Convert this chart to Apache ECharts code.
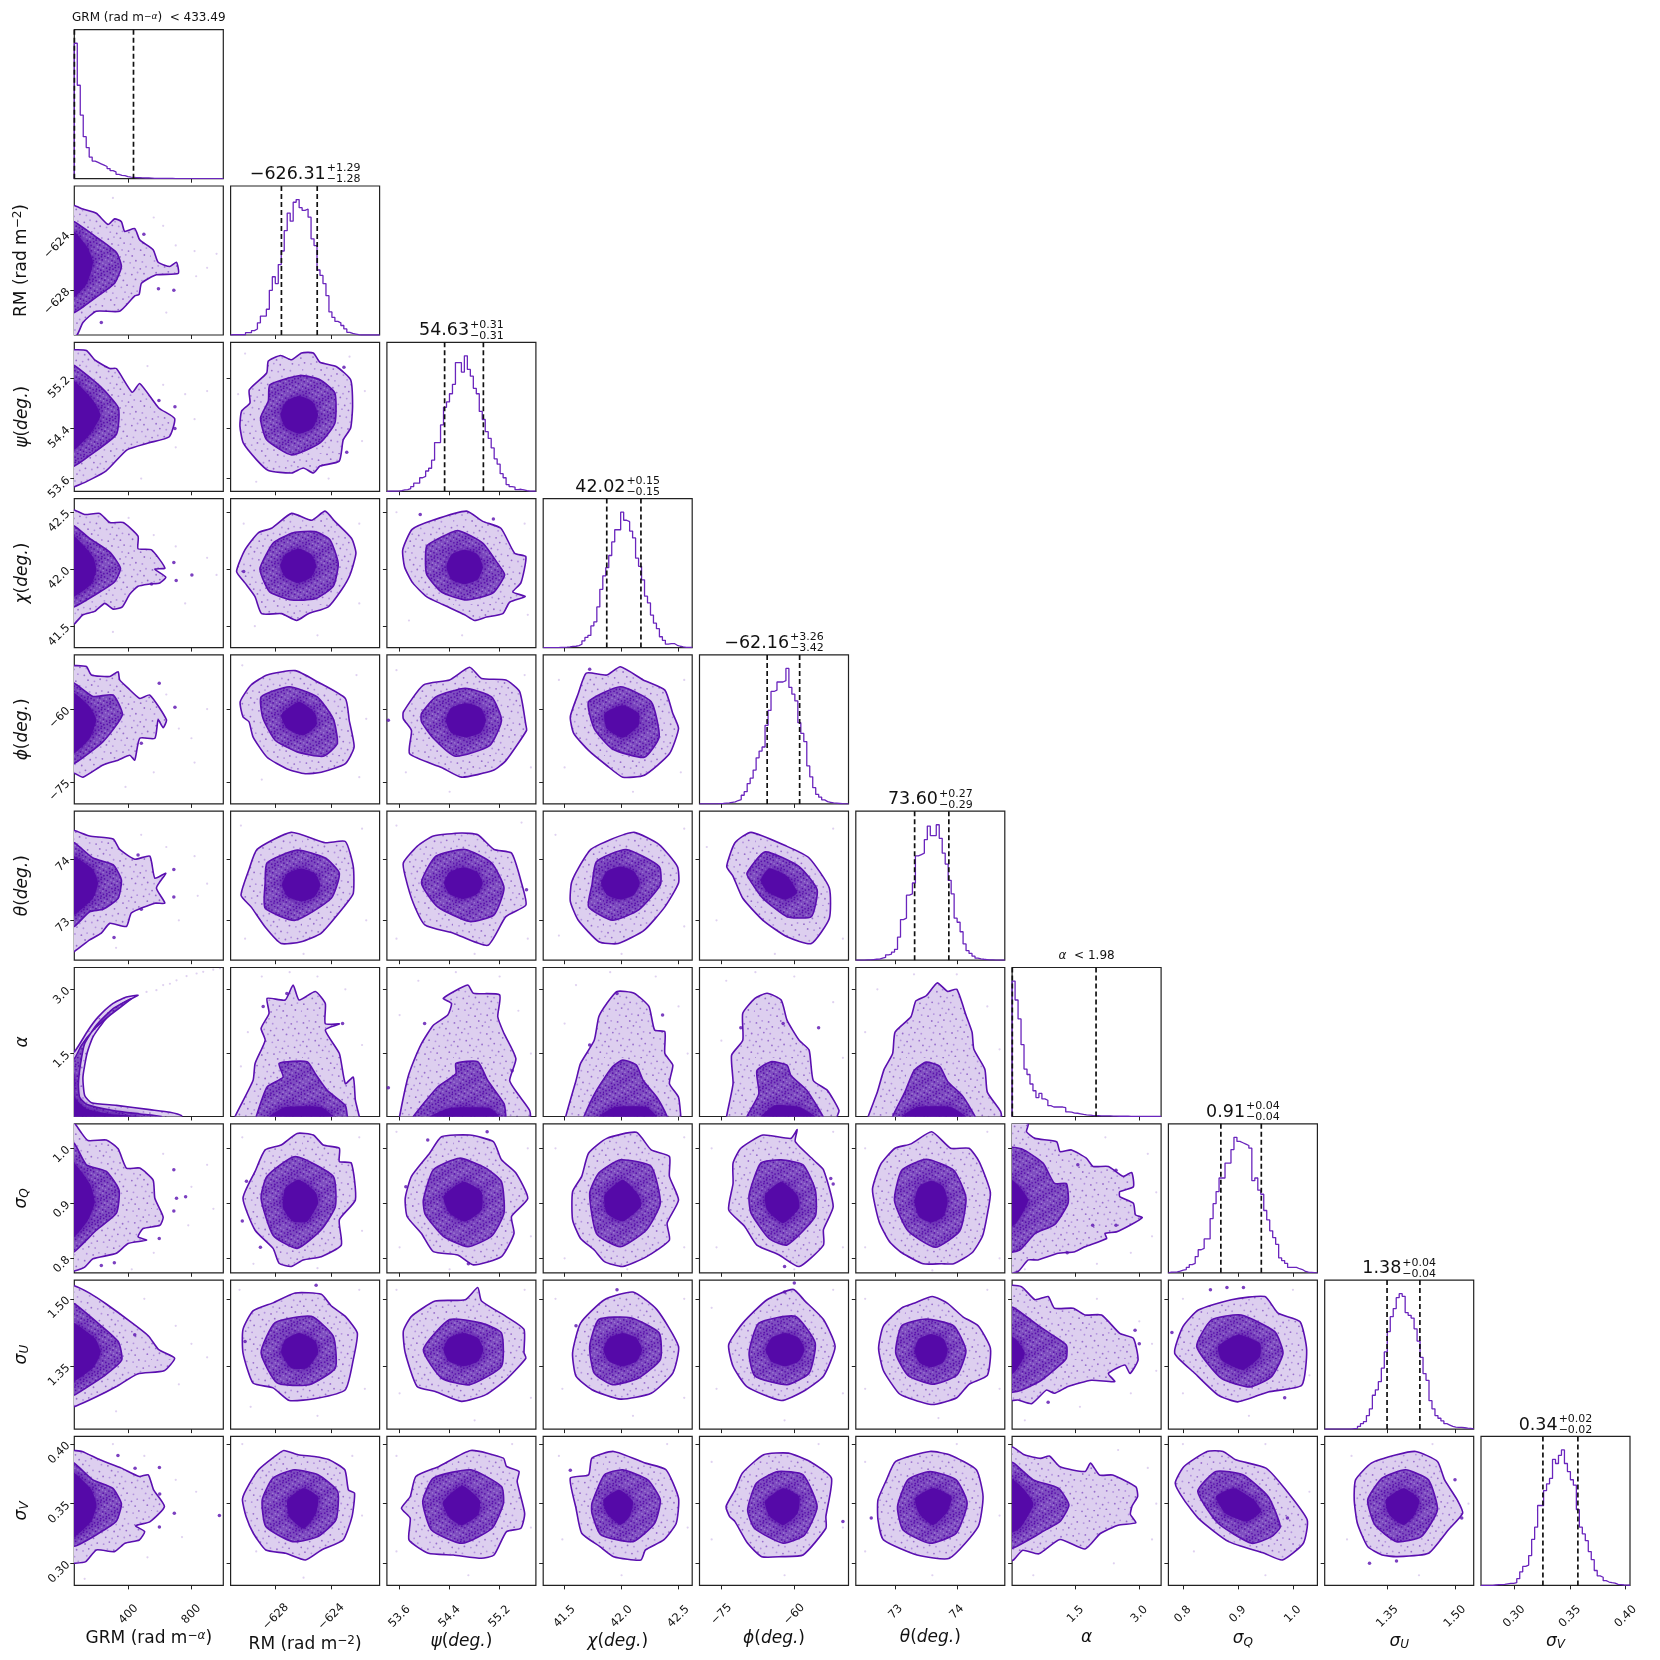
<!DOCTYPE html>
<html>
<head>
<meta charset="utf-8">
<style>html,body{margin:0;background:#fff}#chart{width:1660px;height:1660px}</style>
<script src="https://cdn.jsdelivr.net/npm/echarts@6/dist/echarts.min.js"></script>
</head>
<body>
<div id="chart"></div>
<script>
"use strict";

// axis ranges
var xRanges = [[54,1003],[-631.24,-620.54],[53.397,55.78],[41.312,42.62],[-79.5,-48.85],[72.347,74.786],[0,3.514],[0.7736,1.0445],[1.2104,1.5416],[0.2701,0.4039]];
var yRanges = [[54,1003],[-631.2,-620.55],[53.397,55.78],[41.312,42.62],[-79.5,-48.85],[72.347,74.786],[0.03,3.51],[0.7736,1.0445],[1.2104,1.5416],[0.2815,0.4064]];
var tickValues = [[400,800],[-628,-624],[53.6,54.4,55.2],[41.5,42,42.5],[-75,-60],[73,74],[1.5,3],[0.8,0.9,1],[1.35,1.5],[0.3,0.35,0.4]];
var tickLabels = [["400","800"],["\u2212628","\u2212624"],["53.6","54.4","55.2"],["41.5","42.0","42.5"],["\u221275","\u221260"],["73","74"],["1.5","3.0"],["0.8","0.9","1.0"],["1.35","1.50"],["0.30","0.35","0.40"]];
var axisNames = ["GRM (rad m{sup|\u2212}{supi|\u03b1})","RM (rad m{sup|\u22122})","{i|\u03c8}({i|deg.})","{i|\u03c7}({i|deg.})","{i|\u03d5}({i|deg.})","{i|\u03b8}({i|deg.})","{i|\u03b1}","{i|\u03c3}{sub|Q}","{i|\u03c3}{sub|U}","{i|\u03c3}{sub|V}"];

// titles and dashed quantile lines of the diagonal
var titleMain = ["","\u2212626.31","54.63","42.02","\u221262.16","73.60","","0.91","1.38","0.34"];
var titleUp = ["","+1.29","+0.31","+0.15","+3.26","+0.27","","+0.04","+0.04","+0.02"];
var titleDown = ["","\u22121.28","\u22120.31","\u22120.15","\u22123.42","\u22120.29","","\u22120.04","\u22120.04","\u22120.02"];
var quantiles = [[54.5,431],[-627.59,-625.02],[54.32,54.94],[41.87,42.17],[-65.58,-58.9],[73.31,73.87],[0.005,1.98],[0.869,0.9425],[1.349,1.422],[0.3257,0.3571]];

// diagonal histograms, 50 bins, tallest bin near 100
var hist_0 = [100,69,47,31,23,16,13,12,11,10,9,7.5,6,5,3.2,2.5,2.2,1.5,1.2,1,.8,.7,.6,.5,.5,.4,.3,.3,.3,.2,.2,.2,.2,.1,.1,.1,.1,.1,.1,.1,.1,.1,.1,.1,.1,.05,.05,.05,.05,.05];
var hist_1 = [.2,.2,.2,.2,.2,1.7,1.7,3.2,4.4,9,14,14,19,33,43,38,52,62,77,90,84,98,100,94,92,93,87,71,66,48,44,38,29,17,13,10,9,7,4.5,2,1.2,.7,.2,0,0,0,0,0,0,0];
var hist_2 = [.2,.2,.2,.2,.5,1,1.2,2,3.5,6,6,10,11,15,17,23,36,36,49,62,66,72,79,95,95,88,100,90,85,76,72,59,53,44,39,32,24,20,13,10,5,3.5,3,1.2,1.5,1,.5,.2,.2,.1];
var hist_3 = [0,0,0,0,0,.2,.2,.3,.5,.9,1,1.4,2.5,5,7.5,9,16,19,30,43,53,59,68,78,87,87,100,94,93,86,81,66,60,50,38,33,24,18,14,8,5.4,2.5,3,3,1.7,1,.5,.2,.1,.1];
var hist_4 = [0,0,0,0,0,0,.2,.3,.5,.7,1.2,1.5,2.5,3.2,6.4,9,15,19,25,34,39,42,58,69,83,84,90,90,91,100,86,81,76,60,52,46,28,20,12,7,5,3,1.7,1.2,.7,.5,.3,.1,0,0];
var hist_5 = [0,0,0,.2,.3,.5,.7,.8,1.5,2,4,4.5,6,8,17,30,31,48,49,57,77,78,79,89,99,92,92,100,90,79,71,59,49,31,28,21,12,7,5,3,1.5,1,.7,.5,.3,.2,.1,0,0,0];
var hist_6 = [100,86,72,53,35,31,24,19,14,17,13,12,8,7,7,7,7,6.5,3.4,3.2,2.5,2.4,2,1.5,1.2,1,.8,.7,.6,.5,.5,.4,.4,.3,.3,.2,.2,.2,.2,.1,.1,.1,.1,.1,.1,.1,.05,.05,.05,.05];
var hist_7 = [.5,.5,.7,1.2,2,2.4,4,6,7,12,17,18,25,25,40,51,60,70,70,81,81,91,100,97,96,95,94,92,68,70,61,58,46,39,31,26,21,11,9,7,4,4,4,3,2.4,1,.5,.3,.1,0];
var hist_8 = [0,0,0,0,0,0,0,0,0,.3,.5,2,4,5.5,10,15,25,29,35,45,57,72,83,89,97,100,98,86,84,82,74,65,53,41,36,21,15,10,8,6,4,3,2,1.5,1.2,1.2,1,.7,.5,.2];
var hist_9 = [0,0,0,0,.3,.5,.5,.7,1.2,1.5,1.5,2,5,10,14,15,22,34,43,59,59,70,75,79,93,90,96,100,90,84,78,74,56,43,38,33,25,19,11,7,6,3.5,2.5,2,1.7,.7,.5,.3,.2,.1];

// contours in data units, x,y,x,y,... name is row_col
var outer_1_0 = [3,-621.9,54,-621.94,109,-622.2,194,-622.5,269,-623.3,311,-622.9,354,-623.1,375,-623.8,439,-623.6,471,-624.4,556,-625.1,588,-626,663,-626.3,705,-626,716,-626.8,577,-626.9,482,-627.5,467,-628.3,439,-628.4,343,-629.5,194,-629.5,109,-630.3,71,-631.2,3,-631.3];
var mid_1_0 = [3,-623,54,-623.1,194,-624.2,322,-625.3,354,-626.3,311,-627.5,194,-628.5,109,-629.2,54,-629.6,3,-629.6];
var core_1_0 = [3,-623.7,54,-623.8,135,-624.9,173,-626,135,-627.5,54,-628.5,3,-628.6];
var outer_2_0 = [3,55.66,54,55.66,131,55.65,184,55.5,280,55.36,322,55.36,423,54.98,471,55.12,592,54.73,693,54.56,659,54.27,525,54.17,390,54.06,255,53.72,86,53.5,3,53.45];
var mid_2_0 = [3,55.42,54,55.41,221,55.07,335,54.73,322,54.31,153,53.97,54,53.8,3,53.79];
var core_2_0 = [3,55.17,54,55.16,174,54.85,221,54.61,153,54.31,54,54.06,3,54.05];
var outer_3_0 = [3,42.52,54,42.52,120,42.48,216,42.49,280,42.41,365,42.41,460,42.29,460,42.18,546,42.17,631,42.01,567,42,637,41.93,599,41.88,535,41.87,460,41.85,407,41.78,360,41.67,301,41.65,248,41.7,184,41.63,109,41.6,54,41.52,3,41.51];
var mid_3_0 = [3,42.38,54,42.38,152,42.27,280,42.15,348,42.01,311,41.89,216,41.8,54,41.67,3,41.66];
var core_3_0 = [3,42.29,54,42.29,173,42.11,194,41.99,162,41.87,54,41.76,3,41.75];
var outer_4_0 = [3,-51,54,-51.05,131,-51.25,163,-52.97,280,-53.3,333,-52.3,343,-54,397,-55.7,471,-57.8,535,-57.1,641,-62.2,620,-63.8,588,-62.2,567,-66,471,-66,439,-70.5,407,-69.5,333,-70.5,237,-71.5,109,-74,54,-73.2,3,-73.2];
var mid_4_0 = [3,-54.7,54,-54.7,173,-57.4,301,-57.1,360,-61.2,237,-66.7,54,-71.2,3,-71.2];
var core_4_0 = [3,-56.7,54,-56.7,152,-59.5,194,-62.2,152,-66,54,-69.1,3,-69.1];
var outer_5_0 = [3,74.47,54,74.47,152,74.38,301,74.33,343,74.16,439,74,535,74.05,567,73.69,637,73.77,577,73.53,631,73.28,567,73.28,418,73.12,386,72.9,280,72.95,226,72.79,152,72.68,54,72.49,3,72.45];
var mid_5_0 = [3,74.27,54,74.27,173,74.02,301,73.91,354,73.66,333,73.36,237,73.18,152,73.14,54,72.9,3,72.9];
var core_5_0 = [3,74.05,54,74.05,173,73.83,205,73.61,173,73.36,54,73.09,3,73.09];
var outer_6_0 = [460,2.86,386,2.82,301,2.67,205,2.35,141,2.04,54,1.54,3,1.54,3,-.06,737,-.06,737,.05,663,.13,535,.19,322,.29,163,.35,120,.52,109,.95,135,1.5,173,1.89,248,2.28,343,2.63];
var mid_6_0 = [418,2.78,301,2.55,194,2.16,120,1.73,94,1.26,80,.79,88,.48,135,.31,301,.17,471,.09,609,.03,609,-.06,3,-.06,3,1.3,54,1.38,99,1.69,173,2.04,280,2.39];
var core_6_0 = [54,1.03,58,.48,131,.21,280,.09,471,.03,471,-.06,3,-.06,3,1.03];
var outer_7_0 = [3,1.05,54,1.046,94,1.03,141,1.014,258,1.015,333,.999,386,.964,471,.964,556,.942,567,.909,620,.875,599,.86,492,.854,460,.839,514,.833,397,.827,322,.809,173,.799,120,.784,54,.777,3,.775];
var mid_7_0 = [3,1.01,54,1.009,131,.97,258,.958,339,.924,322,.882,194,.851,54,.812,3,.81];
var core_7_0 = [3,.975,54,.973,152,.936,184,.903,141,.869,54,.839,3,.838];
var outer_8_0 = [3,1.53,54,1.529,154,1.512,255,1.489,424,1.446,525,1.418,592,1.387,693,1.368,626,1.34,457,1.333,322,1.305,188,1.281,66,1.262,3,1.258];
var mid_8_0 = [3,1.49,54,1.489,221,1.441,335,1.404,356,1.364,242,1.328,120,1.3,54,1.286,3,1.285];
var core_8_0 = [3,1.447,54,1.446,188,1.411,221,1.38,174,1.347,54,1.317,3,1.316];
var outer_9_0 = [3,.3952,54,.3946,104,.3938,218,.3868,354,.3798,468,.3728,525,.3742,559,.3616,628,.3476,537,.335,445,.3314,502,.3266,468,.3196,377,.3168,309,.3098,195,.3112,127,.3014,54,.3,3,.3];
var mid_9_0 = [3,.385,54,.384,172,.37,298,.363,354,.35,320,.335,195,.324,70,.315,3,.314];
var core_9_0 = [3,.377,54,.376,161,.362,195,.349,161,.335,54,.322,3,.321];

var outer_2_1 = [-627.65,55.57,-626.86,55.5,-626.14,55.61,-625.3,55.61,-624.82,55.46,-623.63,55.39,-622.62,55.18,-622.48,54.76,-622.62,54.41,-623.15,54.22,-623.44,53.88,-624.82,53.8,-625.3,53.69,-626.02,53.77,-626.86,53.69,-628.53,53.73,-629.37,53.9,-630.33,54.17,-630.57,54.44,-630.45,54.68,-629.85,54.81,-629.9,55.02,-628.65,55.29,-628.53,55.48];
var mid_2_1 = [-628.42,55.1,-626.26,55.25,-624.82,55.18,-623.75,54.97,-623.75,54.49,-624.82,54.17,-626.86,53.98,-628.65,54.22,-629.09,54.57,-628.53,54.84];
var core_2_1 = [-626.31,54.92,-625.35,54.83,-624.96,54.62,-625.35,54.41,-626.31,54.32,-627.27,54.41,-627.66,54.62,-627.27,54.83];
var outer_3_1 = [-630.81,41.98,-630.21,42.17,-629.25,42.32,-628.3,42.36,-626.86,42.49,-625.42,42.43,-624.46,42.51,-623.75,42.42,-622.55,42.27,-622.24,42.14,-622.67,41.95,-623.27,41.82,-624.23,41.67,-625.66,41.61,-626.5,41.55,-627.58,41.61,-629.01,41.61,-629.49,41.76,-630.21,41.88];
var mid_3_1 = [-629.13,42.01,-628.18,42.23,-626.74,42.32,-625.18,42.33,-624.11,42.26,-623.51,42.05,-623.87,41.85,-625.18,41.74,-626.86,41.73,-628.42,41.8,-628.94,41.92];
var core_3_1 = [-626.38,42.18,-625.45,42.13,-625.08,42.03,-625.45,41.93,-626.38,41.88,-627.3,41.93,-627.68,42.03,-627.3,42.13];
var outer_3_2 = [53.65,42.17,53.8,42.35,54.13,42.43,54.67,42.51,54.93,42.42,55.22,42.36,55.44,42.14,55.62,42.11,55.54,41.88,55.41,41.8,55.61,41.76,55.36,41.71,55.25,41.61,54.99,41.58,54.8,41.55,54.64,41.6,54.29,41.69,54.03,41.76,53.81,41.88,53.68,42.02];
var mid_3_2 = [54.03,42.2,54.19,42.26,54.53,42.34,54.93,42.23,55.17,42.05,55.28,41.95,55.09,41.79,54.67,41.73,54.27,41.8,54.03,41.96];
var core_3_2 = [54.64,42.17,54.85,42.13,54.93,42.02,54.85,41.91,54.64,41.87,54.43,41.91,54.35,42.02,54.43,42.13];
var outer_4_1 = [-630.55,-58.5,-629.77,-55.05,-628.62,-52.98,-626.6,-52.09,-625.02,-54.36,-623,-57.8,-622.72,-62.3,-622.37,-67.8,-623,-71.2,-624.73,-73,-625.88,-73.3,-627.18,-72.3,-628.62,-69.9,-629.63,-65.7,-629.92,-62.6,-630.35,-61.6];
var mid_4_1 = [-629.05,-57.5,-627.03,-55.4,-625.02,-57.5,-623.87,-62,-623.58,-67.1,-624.59,-69.7,-626.46,-68.8,-628.04,-66.4,-628.91,-61.9];
var core_4_1 = [-626.32,-58.5,-625.16,-60.9,-625.08,-63.3,-626.03,-65.4,-627.18,-64,-627.61,-61.2];
var outer_4_2 = [53.66,-60.6,53.98,-55.05,54.4,-54,54.72,-51.4,54.91,-53.7,55.3,-54,55.52,-56.4,55.62,-63.3,55.63,-64.4,55.3,-70.6,55.1,-72.6,54.59,-74,54.27,-72,53.76,-69.2,53.79,-64.4,53.66,-62];
var mid_4_2 = [53.95,-60.9,54.18,-57.5,54.65,-55.7,55.07,-57.5,55.23,-62.3,55.04,-67.5,54.49,-69.7,54.14,-66,53.95,-62.6];
var core_4_2 = [54.66,-58.8,54.9,-59.8,54.98,-62.3,54.9,-64.8,54.66,-65.8,54.42,-64.8,54.34,-62.3,54.42,-59.8];
var outer_4_3 = [41.55,-61.6,41.62,-56.8,41.69,-52.6,41.87,-53,41.99,-51.3,42.19,-54,42.38,-56.1,42.45,-60.9,42.5,-64,42.42,-69.2,42.2,-73.6,42.01,-74,41.87,-71.6,41.71,-68.5,41.58,-65];
var mid_4_3 = [41.71,-58.5,41.99,-55.4,42.26,-58.5,42.33,-65.7,42.2,-69.9,41.92,-68.2,41.76,-64];
var core_4_3 = [42.01,-59.2,42.15,-60.9,42.15,-63.3,42.01,-65.9,41.87,-64,41.85,-60.9];
var outer_5_1 = [-629.34,74.16,-626.89,74.44,-624.44,74.27,-623,74.29,-622.43,73.88,-622.43,73.44,-623,73.25,-624.73,72.79,-626.17,72.65,-627.61,72.62,-628.76,72.89,-629.77,73.22,-630.49,73.41,-629.92,73.83];
var mid_5_1 = [-628.62,73.94,-626.46,74.15,-624.44,74.02,-623.43,73.77,-624.01,73.36,-626.6,73,-628.76,73.2,-628.76,73.61];
var core_5_1 = [-626.17,73.85,-625.2,73.77,-624.8,73.58,-625.2,73.39,-626.17,73.31,-627.15,73.39,-627.55,73.58,-627.15,73.77];
var outer_5_2 = [53.66,73.94,53.88,74.21,54.14,74.38,54.59,74.43,54.85,74.4,55.11,74.16,55.39,74.1,55.55,73.61,55.62,73.25,55.3,73.06,55.01,72.59,54.46,72.79,54.01,72.92,53.82,73.28,53.69,73.72];
var mid_5_2 = [53.95,73.61,54.18,74.05,54.65,74.16,55.07,73.94,55.27,73.53,55.11,73.09,54.72,72.98,54.21,73.22];
var core_5_2 = [54.62,73.87,54.84,73.79,54.93,73.61,54.84,73.43,54.62,73.35,54.4,73.43,54.31,73.61,54.4,73.79];
var outer_5_3 = [41.56,73.61,41.62,73.85,41.73,74.16,41.9,74.32,42.11,74.44,42.33,74.24,42.49,73.88,42.5,73.61,42.38,73.22,42.2,72.84,41.97,72.62,41.8,72.65,41.62,73,41.55,73.31];
var mid_5_3 = [41.74,73.58,41.78,73.96,42.04,74.16,42.33,73.88,42.34,73.58,42.15,73.17,41.92,73,41.71,73.22];
var core_5_3 = [41.99,73.88,42.11,73.8,42.16,73.61,42.11,73.42,41.99,73.34,41.87,73.42,41.82,73.61,41.87,73.8];
var outer_5_4 = [-73.9,73.88,-72.2,74.27,-68.9,74.44,-61.5,74.21,-56.95,74.02,-52.8,73.53,-52.8,73.03,-56.5,72.62,-61.5,72.73,-66.45,73,-70.6,73.36,-72.6,73.72];
var mid_5_4 = [-69.75,73.77,-66,74.12,-59,73.88,-55.3,73.5,-56.5,73.06,-61.5,73.06,-66.45,73.36,-68.9,73.63];
var core_5_4 = [-65.2,73.85,-61.5,73.72,-59.4,73.45,-61.9,73.34,-65.6,73.47,-66.9,73.66];

var outer_6_1 = [-630.92,.03,-629.63,.87,-629.48,1.27,-628.76,1.81,-629.05,2.09,-628.48,2.44,-628.62,2.79,-627.32,2.75,-626.75,3.1,-626.32,2.75,-625.16,2.95,-624.44,2.67,-624.44,2.2,-623.43,2.19,-624.44,2.05,-623.43,1.5,-623,.8,-622.43,.95,-622.28,.41,-622,.03,-622,-.06,-630.92,-.06];
var mid_6_1 = [-629.4,.03,-628.62,.72,-627.47,.95,-627.76,1.27,-625.74,1.31,-625.16,1.03,-624.3,.64,-623,.29,-622.86,.03,-622.86,-.06,-629.4,-.06];
var core_6_1 = [-628.48,.03,-627.32,.25,-624.73,.25,-623.87,.03,-623.87,-.06,-628.48,-.06];
var outer_6_2 = [53.6,.03,53.72,.87,53.79,1.19,53.95,1.73,54.14,2.16,54.37,2.4,54.43,2.67,54.3,2.79,54.69,3.1,54.78,2.91,55.2,2.87,55.17,2.36,55.27,1.97,55.46,1.38,55.36,.87,55.49,.56,55.68,.17,55.68,-.06,53.6,-.06];
var mid_6_2 = [53.82,.03,54.21,.72,54.5,1.03,54.5,1.27,54.85,1.31,55.01,.87,55.27,.33,55.3,.03,55.3,-.06,53.82,-.06];
var core_6_2 = [54.08,.03,54.4,.23,55.04,.23,55.2,.03,55.2,-.06,54.08,-.06];
var outer_6_3 = [41.51,.03,41.6,.87,41.64,1.27,41.76,1.81,41.8,2.36,41.87,2.67,41.96,2.95,42.11,2.91,42.24,2.6,42.29,2.05,42.38,2.01,42.38,1.5,42.45,1.23,42.42,.8,42.5,.48,42.52,.03,42.52,-.06,41.51,-.06];
var mid_6_3 = [41.67,.03,41.78,.64,41.92,1.19,42.01,1.35,42.13,1.23,42.19,.87,42.31,.48,42.4,.03,42.4,-.06,41.67,-.06];
var core_6_3 = [41.8,.03,41.94,.25,42.22,.25,42.31,.03,42.31,-.06,41.8,-.06];
var outer_6_4 = [-73.9,.05,-72.6,.8,-72.9,1.46,-70.6,1.81,-70.6,2.44,-68.1,2.79,-65.6,2.91,-62.7,2.75,-61.5,2.28,-59,1.81,-56.95,1.58,-56.1,.87,-53.2,.64,-50.8,.17,-51.2,.03,-51.2,-.06,-73.9,-.06];
var mid_6_4 = [-69.75,.03,-67.3,.56,-67.7,1.1,-64.8,1.31,-61.5,1.23,-60.7,.99,-57.4,.64,-54.1,.03,-54.1,-.06,-69.75,-.06];
var core_6_4 = [-66.9,.03,-64,.29,-59,.25,-55.7,.03,-55.7,-.06,-66.9,-.06];
var outer_6_5 = [72.55,.03,72.7,.6,72.81,1.13,72.95,1.5,72.99,2,73.25,2.36,73.33,2.73,73.5,2.85,73.68,3.15,73.85,2.95,74,3,74.15,2.4,74.25,2,74.28,1.6,74.46,1.13,74.5,.6,74.72,.14,74.72,-.06,72.55,-.06];
var mid_6_5 = [72.95,.03,73.15,.6,73.3,1.1,73.5,1.3,73.72,1.2,73.85,.85,74.1,.5,74.3,.03,74.3,-.06,72.95,-.06];
var core_6_5 = [73.1,.03,73.35,.25,73.9,.25,74.15,.03,74.15,-.06,73.1,-.06];

var outer_7_1 = [-629.48,.958,-628.76,.997,-627.61,1.006,-626.46,1.027,-625.3,1.024,-624.59,1.006,-623.43,1,-623.43,.976,-622.57,.973,-622.28,.906,-623.43,.87,-623.29,.824,-624.73,.803,-626.03,.797,-626.89,.785,-627.76,.791,-628.19,.818,-629.48,.851,-630.35,.909];
var mid_7_1 = [-628.62,.949,-626.6,.985,-623.87,.949,-623.72,.894,-624.73,.852,-626.46,.818,-628.19,.842,-629.05,.909];
var core_7_1 = [-626.32,.943,-625.16,.921,-624.96,.9,-625.74,.867,-626.75,.867,-627.47,.891,-627.32,.927];
var outer_7_2 = [53.69,.909,53.79,.949,54.08,.991,54.27,1.021,54.72,1.024,55.1,1.012,55.23,.979,55.46,.955,55.65,.909,55.39,.876,55.43,.845,55.23,.803,54.78,.788,54.53,.806,54.14,.812,53.95,.845,53.72,.876];
var mid_7_2 = [53.98,.906,54.14,.961,54.56,.982,54.98,.964,55.23,.939,55.27,.882,55.07,.84,54.69,.821,54.3,.84,54.01,.88];
var core_7_2 = [54.62,.939,54.91,.921,54.91,.888,54.65,.867,54.4,.882,54.3,.912];
var outer_7_3 = [41.57,.921,41.65,.949,41.71,.991,41.87,1.018,42.13,1.029,42.26,.997,42.42,.985,42.42,.949,42.5,.906,42.4,.864,42.42,.833,42.22,.803,42.01,.785,41.85,.794,41.76,.815,41.64,.836,41.57,.87];
var mid_7_3 = [41.72,.918,41.8,.955,41.99,.979,42.26,.967,42.34,.9,42.22,.852,41.99,.821,41.78,.845];
var core_7_3 = [42.01,.943,42.15,.915,42.17,.894,42.01,.867,41.87,.882,41.85,.915];
var outer_7_4 = [-72.6,.973,-71,1,-66.45,1.024,-60.7,1.018,-59.4,1.034,-59.8,1.012,-55.7,.976,-54,.961,-52,.894,-54,.852,-54,.824,-59,.785,-63.1,.806,-67.7,.824,-70.2,.858,-73.5,.888,-72.6,.936];
var mid_7_4 = [-69.3,.915,-66.9,.973,-62.7,.979,-58.2,.97,-55.7,.925,-55.7,.876,-61.5,.824,-65.2,.836,-68.9,.882];
var core_7_4 = [-62.7,.939,-59.4,.915,-59,.891,-62.3,.864,-65.6,.888,-66,.915];
var outer_7_5 = [72.62,.925,72.75,.97,72.99,1,73.25,1.008,73.59,1.03,73.9,1,74.2,1,74.37,.975,74.55,.92,74.5,.88,74.42,.84,74.25,.81,73.95,.79,73.75,.79,73.45,.79,73.1,.81,72.9,.83,72.73,.866];
var mid_7_5 = [72.98,.905,73.1,.96,73.5,.98,73.95,.96,74.15,.91,74.05,.85,73.65,.82,73.2,.85];
var core_7_5 = [73.58,.941,73.78,.93,73.85,.903,73.78,.876,73.58,.865,73.38,.876,73.31,.903,73.38,.93];
var outer_7_6 = [-.17,1.046,.38,1.0445,.34,1.03,.54,1.018,1.05,1.012,1.13,.994,1.4,.997,1.75,.982,1.91,.967,2.27,.967,2.62,.949,2.82,.956,2.86,.93,2.54,.921,2.54,.912,2.86,.9,2.91,.879,3.07,.874,2.78,.86,2.46,.848,2.19,.845,2.23,.836,1.72,.821,1.48,.812,1.09,.809,.61,.797,.38,.797,.14,.776,-.17,.773];
var mid_7_6 = [-.17,1,.22,.999,.73,.973,1,.936,1.28,.936,1.32,.9,1,.861,.54,.845,.18,.815,-.17,.812];
var core_7_6 = [-.17,.949,.1,.936,.38,.906,.1,.864,-.17,.851];

var outer_8_1 = [-630.35,1.432,-629.63,1.473,-628.19,1.491,-626.6,1.513,-624.73,1.51,-624,1.484,-623,1.461,-622.14,1.424,-622.43,1.365,-623,1.298,-625.02,1.279,-627.03,1.274,-628.19,1.302,-629.63,1.313,-630.35,1.38];
var mid_8_1 = [-629.05,1.38,-628.04,1.447,-625.45,1.461,-623.87,1.417,-623.72,1.346,-625.6,1.309,-627.9,1.313];
var core_8_1 = [-626.32,1.424,-625.16,1.406,-624.96,1.38,-625.74,1.346,-626.89,1.346,-627.61,1.38,-627.32,1.409];
var outer_8_2 = [53.66,1.428,53.79,1.461,54.17,1.495,54.65,1.498,54.85,1.525,54.91,1.495,55.3,1.461,55.59,1.432,55.59,1.38,55.62,1.368,55.3,1.32,54.98,1.287,54.59,1.272,54.17,1.294,53.88,1.305,53.69,1.38];
var mid_8_2 = [53.98,1.387,54.4,1.454,54.91,1.446,55.23,1.424,55.23,1.35,54.72,1.309,54.27,1.324];
var core_8_2 = [54.62,1.424,54.85,1.413,54.94,1.387,54.85,1.361,54.62,1.35,54.39,1.361,54.3,1.387,54.39,1.413];
var outer_8_3 = [41.57,1.38,41.64,1.446,41.85,1.498,42.1,1.515,42.31,1.476,42.5,1.394,42.45,1.335,42.26,1.29,41.99,1.277,41.74,1.298,41.6,1.328];
var mid_8_3 = [41.72,1.394,41.8,1.454,42.08,1.458,42.33,1.424,42.34,1.365,42.15,1.324,41.92,1.309,41.76,1.335];
var core_8_3 = [42.01,1.424,42.13,1.413,42.18,1.387,42.13,1.361,42.01,1.35,41.89,1.361,41.84,1.387,41.89,1.413];
var outer_8_4 = [-73.5,1.398,-70.6,1.446,-65.6,1.498,-60.25,1.521,-57.8,1.495,-54,1.454,-51.6,1.394,-54,1.328,-58.2,1.294,-62.7,1.274,-69.75,1.305,-72.6,1.35];
var mid_8_4 = [-69.3,1.38,-67.3,1.446,-59.8,1.461,-55.7,1.402,-56.95,1.335,-61.5,1.309,-68.1,1.328];
var core_8_4 = [-61.9,1.424,-59.1,1.413,-57.9,1.387,-59.1,1.361,-61.9,1.35,-64.7,1.361,-65.9,1.387,-64.7,1.413];
var outer_8_5 = [72.72,1.39,72.8,1.44,73.1,1.48,73.3,1.49,73.6,1.505,73.85,1.49,74.1,1.46,74.35,1.44,74.55,1.39,74.5,1.33,74.2,1.31,74,1.28,73.6,1.265,73.2,1.28,73.05,1.29,72.8,1.34];
var mid_8_5 = [73,1.38,73.1,1.44,73.5,1.455,73.95,1.44,74.15,1.385,74,1.33,73.6,1.31,73.2,1.33];
var core_8_5 = [73.58,1.422,73.78,1.411,73.85,1.385,73.78,1.359,73.58,1.348,73.38,1.359,73.31,1.385,73.38,1.411];
var outer_8_6 = [-.17,1.527,.22,1.527,.54,1.498,.85,1.505,1,1.479,1.44,1.479,1.72,1.464,2.11,1.464,2.54,1.423,2.86,1.412,2.97,1.364,2.78,1.334,2.66,1.353,2.27,1.334,2.42,1.316,1.87,1.319,1.32,1.305,1,1.29,.81,1.297,.46,1.267,.14,1.275,-.17,1.275];
var mid_8_6 = [-.17,1.483,.06,1.479,.54,1.446,.89,1.423,1.28,1.397,1.28,1.368,1.13,1.353,.69,1.319,.22,1.297,-.17,1.293];
var core_8_6 = [-.17,1.423,.1,1.409,.3,1.379,.1,1.342,-.17,1.323];
var outer_8_7 = [.785,1.379,.8,1.438,.828,1.475,.888,1.498,.949,1.505,.973,1.468,1.013,1.449,1.025,1.386,1.016,1.308,.955,1.293,.9,1.271,.864,1.286,.822,1.334];
var mid_8_7 = [.825,1.394,.852,1.453,.906,1.464,.967,1.427,.982,1.379,.961,1.327,.922,1.304,.87,1.323];
var core_8_7 = [.864,1.394,.9,1.42,.94,1.401,.94,1.371,.909,1.342,.87,1.364];

var outer_9_1 = [-630.39,.3532,-630.13,.3616,-629.23,.3784,-628.07,.3896,-627.42,.3946,-626.39,.391,-625.23,.3896,-624.2,.387,-623.04,.3784,-622.78,.3616,-622.34,.3588,-622.52,.3392,-623.16,.3196,-624.71,.3112,-625.87,.3028,-627.29,.3084,-628.71,.3112,-629.61,.3252,-630.13,.3392];
var mid_9_1 = [-628.97,.3532,-628.2,.3714,-626.65,.3784,-624.97,.3742,-623.55,.3602,-623.68,.3364,-624.97,.3224,-626.78,.3182,-628.71,.3308];
var core_9_1 = [-626,.363,-624.97,.356,-625.1,.342,-626,.329,-627.03,.339,-627.16,.353];
var outer_9_2 = [53.63,.3462,53.77,.356,53.86,.3728,54.23,.3812,54.74,.3946,55.26,.3882,55.31,.3812,55.51,.377,55.48,.3686,55.6,.342,55.54,.3294,55.31,.3266,55.11,.307,54.91,.3042,54.46,.307,54.06,.3084,53.75,.3196,53.77,.3378];
var mid_9_2 = [53.97,.3518,54.14,.3714,54.74,.3784,55.23,.3644,55.26,.3504,55.08,.3294,54.6,.3168,54.11,.328];
var core_9_2 = [54.6,.365,54.88,.353,54.86,.341,54.6,.332,54.4,.338,54.29,.351];
var outer_9_3 = [41.55,.3714,41.71,.3742,41.74,.3882,41.93,.3938,42.21,.384,42.39,.3784,42.5,.3546,42.48,.3336,42.37,.3196,42.21,.3112,42.17,.3028,41.93,.3056,41.81,.314,41.65,.3252,41.6,.3462];
var mid_9_3 = [41.74,.3504,41.85,.3742,42.01,.3784,42.23,.37,42.34,.3532,42.29,.3336,42.1,.3182,41.82,.3238,41.74,.342];
var core_9_3 = [41.98,.3616,42.1,.3518,42.07,.3392,41.99,.3322,41.87,.342,41.84,.3532];
var outer_9_4 = [-74.04,.3476,-72.2,.3616,-70.7,.3756,-66.3,.391,-61.2,.3924,-56.8,.3854,-52.35,.3714,-53.5,.3392,-53.5,.3294,-58.2,.307,-62.6,.3056,-66.7,.3056,-69.6,.3168,-72.2,.335,-73.3,.3392];
var mid_9_4 = [-69.6,.3448,-67.8,.3672,-63.4,.377,-58.2,.3742,-55.3,.3476,-57.9,.3238,-62.3,.3168,-68.2,.3294];
var core_9_4 = [-62.3,.363,-59,.356,-59.3,.342,-62.3,.332,-65.2,.34,-66,.352];
var outer_9_5 = [72.71,.3532,72.85,.37,73,.3854,73.56,.3938,73.88,.391,74.32,.3784,74.43,.356,74.35,.3308,73.88,.3042,73.35,.307,72.8,.3196,72.71,.3364];
var mid_9_5 = [73.03,.3476,73.2,.37,73.56,.377,73.99,.37,74.17,.3504,73.99,.3252,73.56,.3168,73.12,.328];
var core_9_5 = [73.61,.363,73.91,.356,73.85,.3434,73.61,.332,73.38,.342,73.32,.3546];
var outer_9_6 = [-.1,.398,.04,.397,.29,.391,.67,.388,.88,.39,1.13,.381,1.72,.377,1.85,.384,2.06,.374,2.37,.374,2.92,.364,2.96,.356,2.83,.348,2.79,.341,2.92,.334,2.5,.332,2.08,.325,1.72,.312,1.13,.32,.63,.308,.25,.311,.04,.303,-.1,.302];
var mid_9_6 = [-.1,.385,.04,.384,.5,.37,1.09,.363,1.34,.349,1.13,.335,.79,.328,.46,.321,.04,.313,-.1,.312];
var core_9_6 = [-.1,.372,.2,.365,.5,.35,.2,.33,-.1,.325];
var outer_9_7 = [.786,.3672,.802,.3812,.844,.3938,.873,.3938,.896,.3868,.951,.3798,.987,.3616,1.026,.3364,1.019,.3168,.981,.3028,.948,.3084,.883,.3182,.831,.3364,.802,.3532];
var mid_9_7 = [.827,.3602,.86,.377,.909,.3742,.955,.356,.977,.3308,.961,.3224,.925,.3168,.864,.3336];
var core_9_7 = [.86,.356,.893,.363,.929,.3532,.942,.3434,.916,.335,.877,.342];
var outer_9_8 = [1.279,.37,1.314,.384,1.37,.391,1.413,.3938,1.461,.3854,1.477,.37,1.505,.3532,1.517,.342,1.485,.328,1.441,.3084,1.37,.3056,1.338,.307,1.306,.314,1.283,.3336,1.276,.3532];
var mid_9_8 = [1.306,.3532,1.338,.3714,1.39,.3784,1.441,.37,1.461,.3448,1.425,.3224,1.37,.3182,1.322,.3322];
var core_9_8 = [1.386,.363,1.421,.3532,1.41,.3406,1.386,.3322,1.354,.3406,1.346,.3532];

// small closed islands seen next to the contours
var spot_1_0 = [590,-627.9,688,-628,497,-624,226,-630.3];
var spot_2_0 = [593,54.85,695,54.75,695,54.4];
var spot_3_0 = [688,42.06,803,41.95,703,41.9,546,41.87];
var spot_4_0 = [695,-59.6,595,-54.7,481,-67];
var spot_5_0 = [460,74.07,688,73.38,688,73.83,481,73.18,307,72.72];
var spot_7_0 = [688,.961,705,.909,763,.912,688,.886,595,.836,309,.792,226,.787];
var spot_8_0 = [439,1.42];
var spot_9_0 = [332,.3904,441,.3798,596,.3804,598,.3582,691,.342,596,.3305,978,.34];
var spot_2_1 = [-623.1,55.38,-622.9,54.02];
var spot_3_1 = [-630.3,41.98];
var spot_3_2 = [53.93,42.48,55.1,42.44];
var spot_4_2 = [53.42,-62.3];
var spot_4_3 = [41.72,-51.8];
var spot_5_2 = [55.63,73.5];
var spot_6_1 = [-628.9,2.6,-627.2,2.9,-623.2,2.2];
var spot_6_2 = [54.0,2.2,55.4,1.1,53.42,.7];
var spot_6_3 = [41.72,1.7,42.36,2.4,41.96,2.9];
var spot_6_4 = [-71,2.1,-55,2.1,-62.3,2.2];
var spot_7_1 = [-630.1,.94,-630.4,.868,-629.1,.82];
var spot_7_2 = [54.05,1.015,55.0,1.03,53.7,.93,54.7,.79];
var spot_7_4 = [-52.5,.945,-52,.935,-62,.785];
var spot_8_1 = [-630.2,1.405,-625.1,1.53];
var spot_8_3 = [41.6,1.44,41.96,1.52];
var spot_8_4 = [-62,1.515,-60,1.535];
var spot_8_6 = [2.9,1.43,3,1.4,.85,1.27];
var spot_7_6 = [1.55,.97,2.45,.96,1.3,.81,1.9,.86,2.45,.86];
var spot_8_7 = [.78,1.425,.85,1.52,.88,1.525,.91,1.525,.985,1.28];
var spot_9_3 = [41.55,.378];
var spot_9_4 = [-50,.335];
var spot_9_5 = [72.6,.338];
var spot_9_7 = [.99,.338];
var spot_9_8 = [1.5,.37,1.515,.338,1.31,.3,1.37,.302];

// faint lone samples around the contours
var faint_1_0 = [560,-622.8,620,-623.4,700,-624.8,820,-625.2,900,-626.4,960,-625.4,830,-627,640,-629.6,300,-621.4];
var faint_2_0 = [520,55.4,620,55.1,760,54.95,820,54.55,700,54.1,480,53.6,900,55];
var faint_3_0 = [400,42.45,560,42.3,700,42.2,900,42.1,960,41.95,760,41.7,300,41.45];
var faint_4_0 = [640,-57,720,-64,800,-66,900,-60,560,-73,380,-76,820,-71];
var faint_5_0 = [480,74.4,640,74.2,820,74.05,900,73.6,720,73,320,72.55,840,73.4];
var faint_6_0 = [514,2.94,577,2.98,620,3.1,663,3.13,705,3.21,769,3.31,833,3.37,875,3.41,939,3.46,982,3.49];
var faint_7_0 = [620,.99,800,.93,900,.97,940,.89,780,.86,420,.78,560,.81];
var faint_8_0 = [500,1.5,700,1.44,800,1.4,900,1.37,720,1.31,320,1.25];
var faint_9_0 = [300,.4,500,.39,700,.37,830,.36,740,.322,520,.305,120,.287];
var faint_2_1 = [-630.2,55.6,-630.7,54.95,-621.6,55,-621.8,54.2,-629.4,53.55,-624.2,53.6,-622.7,55.55];
var faint_3_1 = [-630.3,42.4,-622,42.4,-622,41.7,-629.5,41.5,-625,41.42];
var faint_3_2 = [53.55,42.5,55.6,42.4,55.65,41.6,53.75,41.55,54.6,41.42];
var faint_4_1 = [-630.4,-51,-622.2,-53,-621.5,-62,-622,-74,-629,-74.5];
var faint_4_2 = [53.55,-52,55.6,-53,55.7,-72,53.7,-73,54.4,-77];
var faint_4_3 = [41.45,-54,42.55,-54,42.52,-73,41.5,-72,42.1,-77];
var faint_5_1 = [-630.5,74.55,-621.8,74.5,-621.5,73,-630.2,72.7,-626,72.45];
var faint_5_2 = [53.55,74.55,55.55,74.6,55.65,72.7,53.55,72.7,54.8,72.45];
var faint_5_3 = [41.42,74.4,42.55,74.5,42.55,72.9,41.45,72.75,42,72.45];
var faint_5_4 = [-78,74.2,-52,74.5,-50,72.7,-76,73,-64,72.45];
var faint_6_1 = [-629,3.3,-627,3.4,-625,3.3,-623,3,-630,2,-621.8,1.7,-630.5,1.2];
var faint_6_2 = [53.9,3.2,54.5,3.4,55.2,3.3,55.5,2.5,53.6,2.4,55.7,1.5];
var faint_6_3 = [41.6,3.1,41.9,3.4,42.3,3.3,42.5,2.6,41.5,2.2,42.58,1.5];
var faint_6_4 = [-74,3.2,-68,3.4,-60,3.3,-52,2.7,-75,1.8,-50,1.4];
var faint_6_5 = [72.7,3,73.3,3.35,74,3.35,74.5,2.6,72.5,2,74.7,1.6];
var faint_7_1 = [-630.4,1.02,-622,1.02,-621.8,.85,-629.6,.79,-625,.782];
var faint_7_2 = [53.55,1.03,55.65,1,55.7,.84,53.6,.82,54.4,.78];
var faint_7_3 = [41.42,1,42.55,1.02,42.55,.82,41.5,.8,42.05,.78];
var faint_7_4 = [-77,1,-52,1.03,-50,.82,-76,.82,-60,.78];
var faint_7_5 = [72.5,1,74.5,1.03,74.7,.8,72.5,.82,73.6,.778];
var faint_7_6 = [2.2,1.02,3.2,.99,3.4,.92,3.3,.84,2.8,.81,2,.79,.3,.78];
var faint_8_1 = [-630.6,1.52,-622,1.52,-621.6,1.3,-629.8,1.26,-625,1.24];
var faint_8_2 = [53.55,1.52,55.6,1.52,55.7,1.28,53.6,1.29,54.8,1.23];
var faint_8_3 = [41.42,1.5,42.55,1.5,42.55,1.28,41.48,1.3,42.1,1.24];
var faint_8_4 = [-77,1.48,-52,1.52,-50,1.29,-76,1.3,-62,1.23];
var faint_8_5 = [72.5,1.5,74.5,1.52,74.7,1.3,72.5,1.3,73.7,1.235];
var faint_8_6 = [2,1.5,3,1.45,3.3,1.4,3.4,1.34,2.8,1.29,1.6,1.26,.3,1.23];
var faint_8_7 = [.8,1.5,1,1.52,1.03,1.33,.8,1.29,.92,1.24];
var faint_9_1 = [-630.4,.4,-622.5,.39,-621.8,.34,-629.4,.31,-626,.288];
var faint_9_2 = [53.55,.39,55.4,.4,55.7,.33,53.55,.31,54.7,.29];
var faint_9_3 = [41.45,.39,42.4,.4,42.58,.33,41.48,.32,42,.29];
var faint_9_4 = [-77,.385,-55,.4,-50,.33,-77,.32,-62,.29];
var faint_9_5 = [72.5,.385,74,.4,74.7,.34,72.5,.31,73.6,.29];
var faint_9_6 = [2.5,.395,3.2,.38,3.4,.35,3.3,.32,2.4,.3,.5,.29];
var faint_9_7 = [.8,.4,.95,.4,1.03,.36,.82,.31,.95,.29];
var faint_9_8 = [1.27,.39,1.45,.4,1.53,.35,1.26,.32,1.42,.29];

var panelX0 = 74.3, panelY0 = 29.7, panelStep = 156.3, panelSize = 149;
var lineColor = "#5a0fb0", coreColor = "#5509a8";
var fontName = "DejaVu Sans";

// speckle fill for the shaded levels, placed on a fixed lattice
function speckle(base, colors, count, radius) {
    var c = document.createElement("canvas");
    c.width = c.height = 151;
    var ctx = c.getContext("2d");
    ctx.fillStyle = base;
    ctx.fillRect(0, 0, 151, 151);
    for (var i = 0; i < count; i++) {
        ctx.fillStyle = colors[i % colors.length];
        ctx.beginPath();
        ctx.arc((i * 0.7548777 % 1) * 151, (i * 0.5698403 % 1) * 151, radius, 0, 7);
        ctx.fill();
    }
    return {image: c, repeat: "repeat"};
}
var outerFill = speckle("#ddcfef", ["rgba(105,45,180,.6)", "rgba(150,105,210,.6)"], 520, 0.9);
var midFill = speckle("#7f4ec0", ["rgba(85,9,168,.9)", "rgba(85,9,168,.9)", "rgba(180,150,225,.55)"], 2400, 0.85);

function pairs(flat) {
    var out = [];
    for (var i = 0; i + 1 < flat.length; i += 2) { out.push([flat[i], flat[i + 1]]); }
    return out;
}

function polygonSeries(flat, gridIndex, fill, stroke, width, blur) {
    var points = pairs(flat);
    return {
        type: "custom",
        xAxisIndex: gridIndex,
        yAxisIndex: gridIndex,
        coordinateSystem: "cartesian2d",
        clip: true,
        silent: true,
        animation: false,
        data: points,
        renderItem: function (params, api) {
            if (params.dataIndex !== 0) { return null; }
            return {
                type: "polygon",
                shape: {points: points.map(function (p) { return api.coord(p); }), smooth: 0.18},
                style: {fill: fill, stroke: stroke, lineWidth: width, shadowBlur: blur, shadowColor: blur ? fill : undefined}
            };
        }
    };
}

function lookup(prefix, r, c) { return window[prefix + "_" + r + "_" + c]; }

function axisFor(index, range, dim, showLabels, showTicks, gridIndex, withName) {
    var labels = tickLabels[index], values = tickValues[index];
    var maxLen = labels[0].length;
    var axis = {
        type: "value",
        gridIndex: gridIndex,
        min: range[0],
        max: range[1],
        splitLine: {show: false},
        axisLine: {show: false, onZero: false},
        axisTick: {show: showTicks, length: 4, inside: false, lineStyle: {color: "#222", width: 1}, customValues: values},
        axisLabel: {
            show: showLabels,
            customValues: values,
            rotate: 45,
            fontFamily: fontName,
            fontSize: 11.5,
            color: "#111",
            hideOverlap: false,
            showMinLabel: true,
            showMaxLabel: true,
            formatter: function (v) {
                for (var i = 0; i < values.length; i++) {
                    if (Math.abs(values[i] - v) < 1e-6) { return labels[i]; }
                }
                return "";
            }
        }
    };
    if (dim === "x") {
        axis.axisLabel.align = "center";
        axis.axisLabel.verticalAlign = "middle";
        axis.axisLabel.margin = 22 + 2.3 * maxLen;
    } else {
        axis.axisLabel.align = "right";
        axis.axisLabel.verticalAlign = "middle";
        axis.axisLabel.margin = 6;
    }
    if (withName) {
        axis.name = axisNames[index];
        axis.nameLocation = "middle";
        axis.nameGap = dim === "x" ? 44 : 43;
        axis.nameTextStyle = {
            fontFamily: fontName, fontSize: 17, color: "#111",
            rich: {
                i: {fontFamily: fontName, fontStyle: "italic", fontSize: 17, color: "#111"},
                sup: {fontFamily: fontName, fontSize: 12, color: "#111", verticalAlign: "top", lineHeight: 19},
                supi: {fontFamily: fontName, fontStyle: "italic", fontSize: 12, color: "#111", verticalAlign: "top", lineHeight: 19},
                sub: {fontFamily: fontName, fontStyle: "italic", fontSize: 12, color: "#111", verticalAlign: "bottom", lineHeight: 19}
            }
        };
    }
    return axis;
}

function buildOption() {
    var grids = [], xAxes = [], yAxes = [], series = [], graphics = [];
    var measure = document.createElement("canvas").getContext("2d");

    for (var r = 0; r < 10; r++) {
        for (var c = 0; c <= r; c++) {
            var g = grids.length;
            var left = panelX0 + c * panelStep, top = panelY0 + r * panelStep;
            grids.push({left: left, top: top, width: panelSize, height: panelSize, show: true, borderColor: "#222", borderWidth: 1.2, backgroundColor: "#fff", containLabel: false});
            xAxes.push(axisFor(c, xRanges[c], "x", r === 9, true, g, r === 9));

            if (r === c) {
                yAxes.push({type: "value", gridIndex: g, min: 0, max: 110, splitLine: {show: false}, axisLine: {show: false}, axisTick: {show: false}, axisLabel: {show: false}});
                var values = window["hist_" + c], binWidth = (xRanges[c][1] - xRanges[c][0]) / values.length;
                var steps = [[xRanges[c][0], 0]];
                values.forEach(function (v, i) { steps.push([xRanges[c][0] + i * binWidth, v]); });
                steps.push([xRanges[c][1], values[values.length - 1]]);
                steps.push([xRanges[c][1], 0]);
                series.push({type: "line", xAxisIndex: g, yAxisIndex: g, step: "end", showSymbol: false, silent: true, animation: false, data: steps, lineStyle: {color: "#6a25bd", width: 1.3}});
                quantiles[c].forEach(function (q) {
                    series.push({type: "line", xAxisIndex: g, yAxisIndex: g, showSymbol: false, silent: true, animation: false, data: [[q, 0], [q, 110]], lineStyle: {color: "#111", width: 1.7, type: [5, 3]}});
                });
                var centre = left + panelSize / 2;
                if (titleMain[c]) {
                    measure.font = "17.5px '" + fontName + "'";
                    var mainW = measure.measureText(titleMain[c]).width;
                    measure.font = "11px '" + fontName + "'";
                    var sideW = Math.max(measure.measureText(titleUp[c]).width, measure.measureText(titleDown[c]).width);
                    var x0 = centre - (mainW + sideW + 1) / 2;
                    graphics.push({type: "text", silent: true, style: {x: x0, y: top - 11.4, text: titleMain[c], fill: "#111", font: "17.5px '" + fontName + "'", verticalAlign: "middle"}});
                    graphics.push({type: "text", silent: true, style: {x: x0 + mainW + 1, y: top - 17.4, text: titleUp[c], fill: "#111", font: "11px '" + fontName + "'", verticalAlign: "middle"}});
                    graphics.push({type: "text", silent: true, style: {x: x0 + mainW + 1, y: top - 6.4, text: titleDown[c], fill: "#111", font: "11px '" + fontName + "'", verticalAlign: "middle"}});
                } else {
                    graphics.push({
                        type: "text", silent: true,
                        style: {
                            x: centre, y: top - 11.4, fill: "#111", align: "center", verticalAlign: "middle",
                            font: "12px '" + fontName + "'",
                            text: c === 0 ? "GRM (rad m{s|\u2212}{si|\u03b1})  < 433.49" : "{i|\u03b1}  < 1.98",
                            rich: {
                                s: {font: "9px '" + fontName + "'", fill: "#111", verticalAlign: "top"},
                                si: {font: "italic 9px '" + fontName + "'", fill: "#111", verticalAlign: "top"},
                                i: {font: "italic 12px '" + fontName + "'", fill: "#111"}
                            }
                        }
                    });
                }
                continue;
            }

            yAxes.push(axisFor(r, yRanges[r], "y", c === 0, true, g, c === 0));
            var faint = lookup("faint", r, c), spot = lookup("spot", r, c);
            if (faint) {
                series.push({type: "scatter", xAxisIndex: g, yAxisIndex: g, symbolSize: 2.2, silent: true, animation: false, clip: true, data: pairs(faint), itemStyle: {color: "rgba(110,50,190,.28)"}});
            }
            series.push(polygonSeries(lookup("outer", r, c), g, outerFill, lineColor, 1.6, 0));
            series.push(polygonSeries(lookup("mid", r, c), g, midFill, lineColor, 1.6, 0));
            series.push(polygonSeries(lookup("core", r, c), g, coreColor, null, 0, 8));
            if (spot) {
                series.push({type: "scatter", xAxisIndex: g, yAxisIndex: g, symbolSize: 3.5, silent: true, animation: false, clip: true, data: pairs(spot), itemStyle: {color: lineColor}});
            }
        }
    }
    return {
        animation: false,
        backgroundColor: "#fff",
        textStyle: {fontFamily: fontName},
        grid: grids,
        xAxis: xAxes,
        yAxis: yAxes,
        series: series,
        graphic: {elements: graphics}
    };
}

var chart = echarts.init(document.getElementById("chart"), null, {renderer: "canvas"});
chart.setOption(buildOption());
</script>
</body>
</html>
